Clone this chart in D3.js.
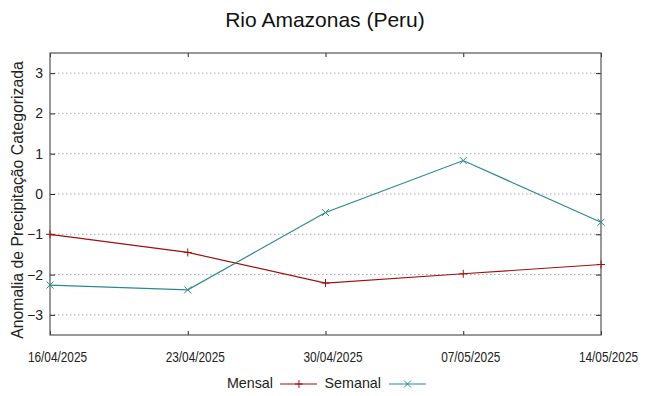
<!DOCTYPE html>
<html><head><meta charset="utf-8">
<script src="https://cdn.jsdelivr.net/npm/d3@7"></script>
<style>body{margin:0;background:#fff}svg{display:block}</style>
</head><body>
<svg id="c" width="649" height="396"></svg>
<script>
const dates = ["16/04/2025","23/04/2025","30/04/2025","07/05/2025","14/05/2025"];
const mensal = [-1.0, -1.45, -2.21, -1.98, -1.75];
const semanal = [-2.26, -2.38, -0.46, 0.83, -0.70];
const yTicks = [-3,-2,-1,0,1,2,3];
const title = "Rio Amazonas (Peru)";
const yLabel = "Anomalia de Precipitação Categorizada";

const svg = d3.select("#c");
const L=50, R=601, T=53, B=335;
const x = d3.scalePoint().domain(dates).range([L,R]);
const y = d3.scaleLinear().domain([-3.5,3.5]).range([B,T]);
const cM = "#a01010", cS = "#2a8a8a";
const FONT = "Liberation Sans, Arial, sans-serif";

// grid
svg.append("g").selectAll("line").data(yTicks).join("line")
  .attr("x1",L).attr("x2",R).attr("y1",d=>y(d)).attr("y2",d=>y(d))
  .attr("stroke","#a8a8a8").attr("stroke-width",1).attr("stroke-dasharray","1.5,2.5");

// axes with inward ticks
const axL = d3.axisLeft(y).tickValues(yTicks).tickSize(-5).tickPadding(13).tickFormat(d3.format("d"));
const axR = d3.axisRight(y).tickValues(yTicks).tickSize(-5).tickFormat("");
const axB = d3.axisBottom(x).tickSize(-4).tickFormat("");
const axT = d3.axisTop(x).tickSize(-4).tickFormat("");
function style(g){g.select(".domain").remove();g.selectAll(".tick line").attr("stroke","#222");}
svg.append("g").attr("transform",`translate(${L},0)`).call(axL).call(style)
  .selectAll("text").attr("font-family",FONT).attr("font-size",14).attr("fill","#222").attr("dx",6);
svg.append("g").attr("transform",`translate(${R},0)`).call(axR).call(style);
svg.append("g").attr("transform",`translate(0,${B})`).call(axB).call(style);
svg.append("g").attr("transform",`translate(0,${T})`).call(axT).call(style);

// x tick labels (condensed)
svg.append("g").selectAll("text").data(dates).join("text")
  .attr("transform",d=>`translate(${x(d)+7.5},${B+26.7}) scale(0.79,1)`)
  .attr("text-anchor","middle").attr("font-family",FONT).attr("font-size",15).attr("fill","#222").text(d=>d);

// border
svg.append("rect").attr("x",L).attr("y",T).attr("width",R-L).attr("height",B-T)
  .attr("fill","none").attr("stroke","#555").attr("stroke-width",1.2);

// lines
const line = d3.line().x((d,i)=>x(dates[i])).y(d=>y(d));
svg.append("path").datum(mensal).attr("d",line).attr("fill","none").attr("stroke",cM).attr("stroke-width",1.2);
svg.append("path").datum(semanal).attr("d",line).attr("fill","none").attr("stroke",cS).attr("stroke-width",1.2);

function plus(g,cx,cy,c){g.append("path").attr("d",`M${cx-4},${cy}H${cx+4}M${cx},${cy-4}V${cy+4}`).attr("stroke",c).attr("stroke-width",1);}
function cross(g,cx,cy,c){g.append("path").attr("d",`M${cx-3.5},${cy-3.5}L${cx+3.5},${cy+3.5}M${cx-3.5},${cy+3.5}L${cx+3.5},${cy-3.5}`).attr("stroke",c).attr("stroke-width",1);}
const pts = svg.append("g");
mensal.forEach((v,i)=>plus(pts,x(dates[i]),y(v),cM));
semanal.forEach((v,i)=>cross(pts,x(dates[i]),y(v),cS));

// title
svg.append("text").attr("x",325).attr("y",27).attr("text-anchor","middle")
  .attr("font-family",FONT).attr("font-size",21).attr("fill","#111").text(title);
// y label
svg.append("text").attr("transform","translate(23,200) rotate(-90)").attr("text-anchor","middle")
  .attr("font-family",FONT).attr("font-size",15.8).attr("fill","#222").text(yLabel);

// legend
const lg = svg.append("g").attr("font-family",FONT).attr("font-size",14.3).attr("fill","#222");
lg.append("text").attr("x",273).attr("y",387.7).attr("text-anchor","end").text("Mensal");
lg.append("line").attr("x1",280).attr("x2",317).attr("y1",384).attr("y2",384).attr("stroke",cM).attr("stroke-width",1.2);
plus(lg,299,384,cM);
lg.append("text").attr("x",381).attr("y",387.7).attr("text-anchor","end").text("Semanal");
lg.append("line").attr("x1",389).attr("x2",426).attr("y1",384).attr("y2",384).attr("stroke",cS).attr("stroke-width",1.2);
cross(lg,407.5,384,cS);
</script>
</body></html>
